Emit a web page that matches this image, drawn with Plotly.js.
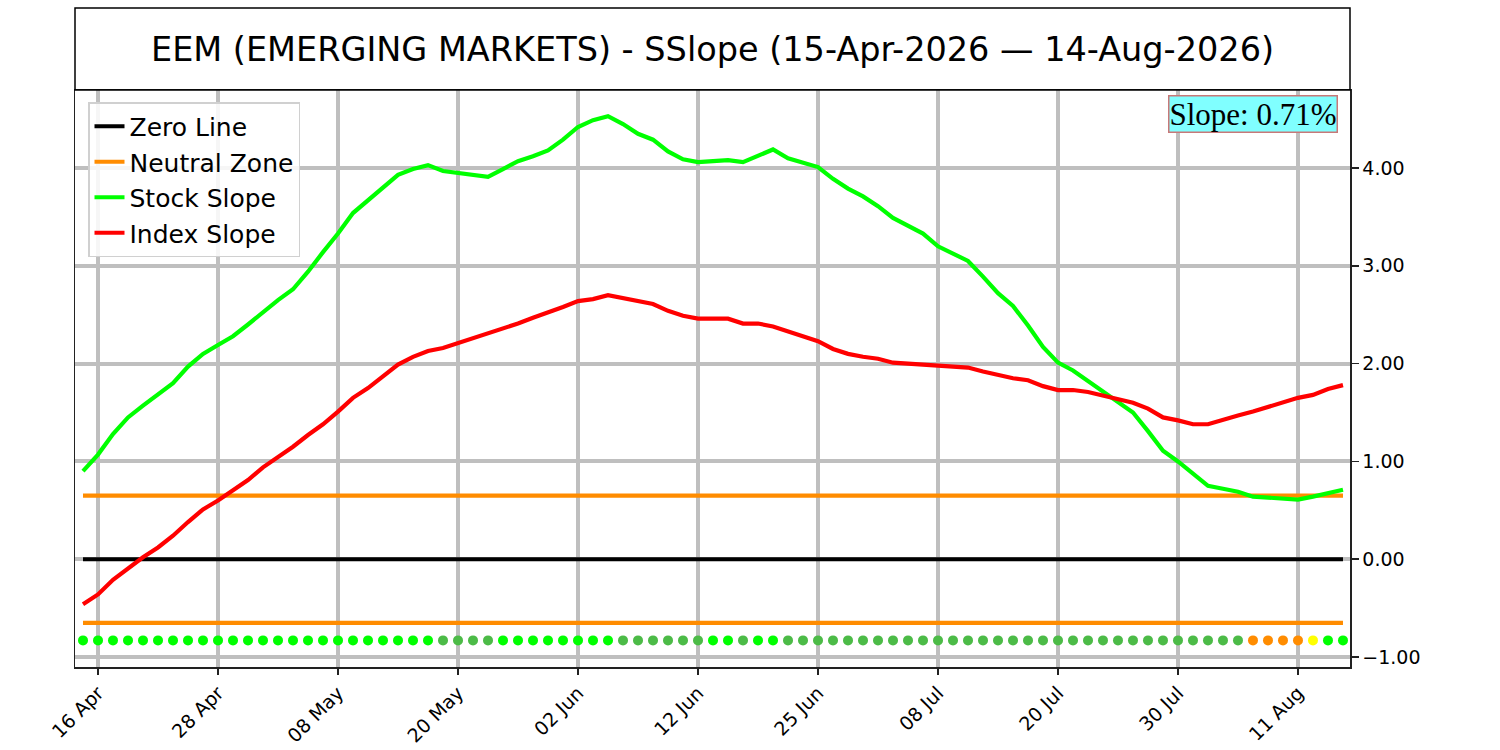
<!DOCTYPE html>
<html>
<head>
<meta charset="utf-8">
<script src="https://cdn.plot.ly/plotly-3.0.1.min.js"></script>
<style>
  html, body { margin: 0; padding: 0; background: #ffffff; }
  #chart { width: 1500px; height: 750px; }
</style>
</head>
<body>
<div id="chart"></div>
<script>
// Trading days (x categories)
const tradingDays = [
  "2026-04-15","2026-04-16","2026-04-17","2026-04-20","2026-04-21","2026-04-22","2026-04-23","2026-04-24",
  "2026-04-27","2026-04-28","2026-04-29","2026-04-30","2026-05-01","2026-05-04","2026-05-05","2026-05-06",
  "2026-05-07","2026-05-08","2026-05-11","2026-05-12","2026-05-13","2026-05-14","2026-05-15","2026-05-18",
  "2026-05-19","2026-05-20","2026-05-21","2026-05-22","2026-05-26","2026-05-27","2026-05-28","2026-05-29",
  "2026-06-01","2026-06-02","2026-06-03","2026-06-04","2026-06-05","2026-06-08","2026-06-09","2026-06-10",
  "2026-06-11","2026-06-12","2026-06-15","2026-06-16","2026-06-17","2026-06-18","2026-06-22","2026-06-23",
  "2026-06-24","2026-06-25","2026-06-26","2026-06-29","2026-06-30","2026-07-01","2026-07-02","2026-07-06",
  "2026-07-07","2026-07-08","2026-07-09","2026-07-10","2026-07-13","2026-07-14","2026-07-15","2026-07-16",
  "2026-07-17","2026-07-20","2026-07-21","2026-07-22","2026-07-23","2026-07-24","2026-07-27","2026-07-28",
  "2026-07-29","2026-07-30","2026-07-31","2026-08-03","2026-08-04","2026-08-05","2026-08-06","2026-08-07",
  "2026-08-10","2026-08-11","2026-08-12","2026-08-13","2026-08-14"
];

// Stock slope (green)
const stockSlope = [
  0.90,1.07,1.28,1.45,1.57,1.69,1.80,1.97,2.10,2.19,
  2.28,2.40,2.53,2.65,2.76,2.94,3.14,3.33,3.54,3.67,
  3.80,3.93,3.99,4.03,3.97,3.95,3.93,3.91,3.99,4.07,
  4.12,4.18,4.29,4.42,4.49,4.53,4.45,4.35,4.29,4.17,
  4.09,4.06,4.07,4.08,4.06,4.12,4.19,4.10,4.05,4.01,
  3.89,3.79,3.71,3.61,3.49,3.41,3.33,3.20,3.12,3.05,
  2.89,2.72,2.59,2.39,2.17,2.01,1.93,1.82,1.71,1.60,
  1.50,1.31,1.11,1.00,0.87,0.75,0.72,0.69,0.64,0.63,
  0.62,0.61,0.64,0.68,0.71
];

// Index slope (red)
const indexSlope = [
  -0.46,-0.36,-0.21,-0.09,0.02,0.12,0.24,0.38,0.51,0.60,
  0.70,0.81,0.94,1.04,1.15,1.27,1.38,1.51,1.65,1.75,
  1.87,1.99,2.07,2.13,2.16,2.21,2.26,2.30,2.36,2.41,
  2.47,2.52,2.58,2.64,2.66,2.70,2.67,2.64,2.61,2.54,
  2.49,2.46,2.46,2.46,2.41,2.41,2.38,2.33,2.29,2.23,
  2.15,2.10,2.07,2.05,2.01,2.00,1.98,1.97,1.96,1.96,
  1.92,1.88,1.85,1.83,1.77,1.73,1.73,1.71,1.67,1.64,
  1.60,1.54,1.45,1.42,1.38,1.38,1.43,1.47,1.51,1.56,
  1.61,1.65,1.68,1.74,1.78
];

// Daily status dots: S strong, M moderate, W weak, C caution
const dotStatus = [
  "S","S","S","S","S","S","S","S","S","S","S","S","S","S","S","S","S","S","S","S","S","S","S","S",
  "M","M","M","M",
  "S","S","S","S","S","S","S","S",
  "M","M","M","M","M","M",
  "S","S","M","S","S",
  "M","M","M","M","M","M","M","M","M","M","M","M","M","M","M","M","M","M","M","M",
  "M","M","M","M","M","M","M","M","M","M","M",
  "W","W","W","W","C","S","S"
];

// Tick labels
const tickDays   = ["2026-04-16","2026-04-28","2026-05-08","2026-05-20","2026-06-02","2026-06-12","2026-06-25","2026-07-08","2026-07-20","2026-07-30","2026-08-11"];
const tickLabels = ["16 Apr","28 Apr","08 May","20 May","02 Jun","12 Jun","25 Jun","08 Jul","20 Jul","30 Jul","11 Aug"];
const yTicks = [-1, 0, 1, 2, 3, 4];

const neutralLevel = 0.65;
const dotLevel = -0.83;
const statusColors = { S: "#00ff00", M: "#4cbb47", W: "#ff8c00", C: "#ffff00" };

const first = tradingDays[0], last = tradingDays[tradingDays.length - 1];
const LW = 4.2;

const traces = [
  { x: [first, last], y: [0, 0], mode: "lines", name: "Zero Line",
    line: { color: "#000000", width: LW }, hoverinfo: "skip" },
  { x: [first, last], y: [neutralLevel, neutralLevel], mode: "lines", name: "Neutral Zone",
    line: { color: "#ff8c00", width: LW }, legendgroup: "nz", hoverinfo: "skip" },
  { x: [first, last], y: [-neutralLevel, -neutralLevel], mode: "lines", name: "Neutral Zone",
    line: { color: "#ff8c00", width: LW }, legendgroup: "nz", showlegend: false, hoverinfo: "skip" },
  { x: tradingDays, y: stockSlope, mode: "lines", name: "Stock Slope",
    line: { color: "#00ff00", width: LW } },
  { x: tradingDays, y: indexSlope, mode: "lines", name: "Index Slope",
    line: { color: "#ff0000", width: LW } },
  { x: tradingDays, y: tradingDays.map(() => dotLevel), mode: "markers", showlegend: false,
    marker: { size: 10, color: dotStatus.map(s => statusColors[s]), line: { width: 0 } } }
];

const plotH = 750 - 90 - 83;
const layout = {
  width: 1500, height: 750,
  margin: { l: 75, r: 150, t: 90, b: 83 },
  paper_bgcolor: "#ffffff", plot_bgcolor: "#ffffff",
  font: { family: "DejaVu Sans", color: "#000000" },
  title: {
    text: "EEM (EMERGING MARKETS) - SSlope (15-Apr-2026 — 14-Aug-2026)",
    font: { family: "DejaVu Sans", size: 33.5, color: "#000000" },
    xref: "paper", x: 0.5, xanchor: "center",
    yref: "container", y: 1 - 49 / 750, yanchor: "middle"
  },
  xaxis: {
    type: "category",
    categoryorder: "array", categoryarray: tradingDays,
    range: [-0.533, 84.467],
    tickmode: "array", tickvals: tickDays, ticktext: tickLabels,
    tickangle: -45,
    tickfont: { family: "DejaVu Sans", size: 19, color: "#000000" },
    ticks: "outside", ticklen: 6, tickwidth: 1.5, tickcolor: "#222222",
    showgrid: true, gridcolor: "#bfbfbf", gridwidth: 4,
    showline: true, mirror: true, linecolor: "#222222", linewidth: 1.5,
    zeroline: false
  },
  yaxis: {
    side: "right",
    range: [-1.102, 4.798],
    tickmode: "array", tickvals: yTicks, tickformat: ".2f",
    tickfont: { family: "DejaVu Sans", size: 19, color: "#000000" },
    ticks: "outside", ticklen: 7, tickwidth: 1.5, tickcolor: "#222222",
    showgrid: true, gridcolor: "#bfbfbf", gridwidth: 4,
    showline: true, mirror: true, linecolor: "#222222", linewidth: 1.5,
    zeroline: false
  },
  legend: {
    x: 13 / 1275, y: 1 - 12 / plotH, xanchor: "left", yanchor: "top",
    bgcolor: "rgba(255,255,255,0.85)", bordercolor: "#d0d0d0", borderwidth: 1.5,
    font: { family: "DejaVu Sans", size: 25, color: "#000000" },
    itemwidth: 30, tracegroupgap: 0
  },
  shapes: [
    { type: "rect", xref: "paper", yref: "paper", x0: 0, x1: 1, y0: 1, y1: 1 + 82 / plotH,
      line: { color: "#000000", width: 1.5 }, fillcolor: "rgba(0,0,0,0)" }
  ],
  annotations: [
    { xref: "paper", yref: "paper", x: (1338 - 75) / 1275, y: 1 - 5 / plotH,
      xanchor: "right", yanchor: "top", showarrow: false,
      text: "Slope: " + stockSlope[stockSlope.length - 1].toFixed(2) + "%",
      font: { family: "Liberation Serif", size: 31, color: "#000000" },
      bgcolor: "#80ffff", bordercolor: "#c87878", borderwidth: 1.5, borderpad: 0 }
  ],
  showlegend: true
};

Plotly.newPlot("chart", traces, layout, { displayModeBar: false, staticPlot: true });
</script>
</body>
</html>
